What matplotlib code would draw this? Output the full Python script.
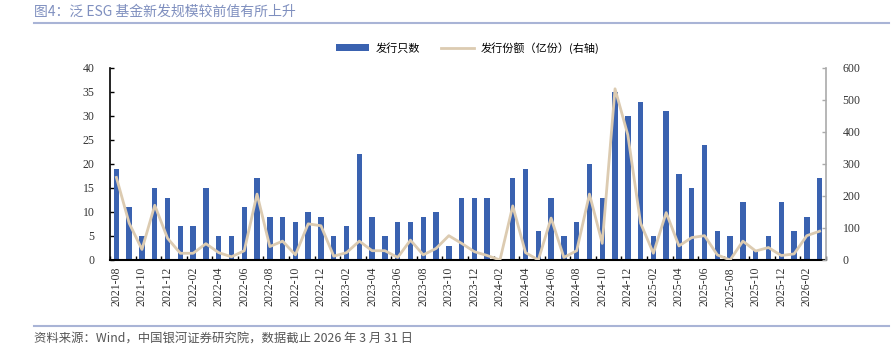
import matplotlib
matplotlib.use("Agg")
import matplotlib.pyplot as plt
from matplotlib.lines import Line2D
from matplotlib.patches import Patch
import numpy as np

plt.rcParams['font.family'] = ['Liberation Serif', 'Noto Sans CJK SC', 'DejaVu Sans']

# ---- data ----
start_year, start_month = 2021, 8
n_months = 56
months = []
y, m = start_year, start_month
for _ in range(n_months):
    months.append(f"{y}-{m:02d}")
    m += 1
    if m > 12:
        m = 1
        y += 1

fund_counts = [19, 11, 5, 15, 13, 7, 7, 15, 5, 5, 11, 17, 9, 9, 8, 10, 9, 5, 7, 22,
               9, 5, 8, 8, 9, 10, 3, 13, 13, 13, 0, 17, 19, 6, 13, 5, 8, 20, 13, 35,
               30, 33, 5, 31, 18, 15, 24, 6, 5, 12, 2, 5, 12, 6, 9, 17]
issue_shares = [258, 115, 33, 171, 68, 21, 21, 51, 23, 10, 29, 206, 42, 59, 16, 113, 107, 12, 23, 59,
                29, 29, 8, 62, 16, 36, 76, 52, 26, 14, 0, 169, 23, 0, 131, 8, 29, 206, 52, 535,
                391, 115, 21, 148, 44, 70, 76, 16, 0, 59, 28, 39, 14, 19, 76, 90]

title = "图4：泛 ESG 基金新发规模较前值有所上升"
source = "资料来源：Wind，中国银河证券研究院，数据截止 2026 年 3 月 31 日"
bar_label = "发行只数"
line_label = "发行份额（亿份）(右轴)"

bar_color = "#3a62b0"
line_color = "#dccbb1"

fig = plt.figure(figsize=(8.92, 3.52), dpi=100)
ax = fig.add_axes([110/892, 1-260/352, (826-110)/892, (260-68)/352])
x = np.arange(n_months)
ax.bar(x, fund_counts, width=0.42, color=bar_color, zorder=2)
ax.set_xlim(-0.5, n_months - 0.5)
ax.set_ylim(0, 40)
ax.set_yticks(range(0, 41, 5))

ax2 = ax.twinx()
ax2.plot(x, issue_shares, color=line_color, lw=2.0, zorder=3, solid_joinstyle='round')
ax2.set_ylim(0, 600)
ax2.set_yticks(range(0, 601, 100))
ax2.set_xlim(-0.5, n_months - 0.5)

# x ticks: labels at every 2nd month center, tick marks at boundaries
ax.set_xticks(x[::2])
ax.set_xticklabels(months[::2], rotation=90, fontsize=8.5, color="#333333")
ax.tick_params(axis='x', length=0, pad=5)
ax.set_xticks(np.arange(-0.5, n_months, 2), minor=True)
ax.tick_params(axis='x', which='minor', direction='in', length=3, width=1, color='black')

ax.tick_params(axis='y', direction='in', length=3, width=1, labelsize=8.5, labelcolor="#333333", pad=11)
ax2.tick_params(axis='y', direction='in', length=3, width=1, color='#aaaaaa', labelsize=8.5, labelcolor="#333333", pad=12)

for a in (ax, ax2):
    a.spines['top'].set_visible(False)
ax.spines['right'].set_visible(False)
ax2.spines['left'].set_visible(False)
ax2.spines['bottom'].set_visible(False)
ax.spines['left'].set_linewidth(1.2)
ax.spines['bottom'].set_linewidth(1.5)
ax2.spines['right'].set_color('#aaaaaa')
ax2.spines['right'].set_linewidth(1.2)

# legend
handles = [Patch(facecolor=bar_color, edgecolor='none'),
           Line2D([0], [0], color=line_color, lw=2)]
fig.legend(handles, [bar_label, line_label], loc='center left', bbox_to_anchor=(336/892, 1-48/352),
           ncol=2, frameon=False, handlelength=3.0, handleheight=0.6,
           columnspacing=1.8, handletextpad=0.6, borderpad=0, borderaxespad=0,
           prop={'family': ['Noto Sans CJK SC', 'DejaVu Sans'], 'size': 8})

# title and source
fig.text(34/892, 1-12/352, title, fontsize=10, color="#7f8fbf", va='center', ha='left',
         family=['Noto Sans CJK SC', 'DejaVu Sans'])
fig.add_artist(Line2D([34/892, 889/892], [1-22.5/352, 1-22.5/352], color="#a9b4d6", lw=1.5))
fig.add_artist(Line2D([34/892, 889/892], [1-325.5/352, 1-325.5/352], color="#a9b4d6", lw=1.5))
fig.text(34/892, 1-338/352, source, fontsize=8.9, color="#555555", va='center', ha='left',
         style='italic', family=['Noto Sans CJK SC', 'DejaVu Sans'])

fig.savefig("out.png", dpi=100)
